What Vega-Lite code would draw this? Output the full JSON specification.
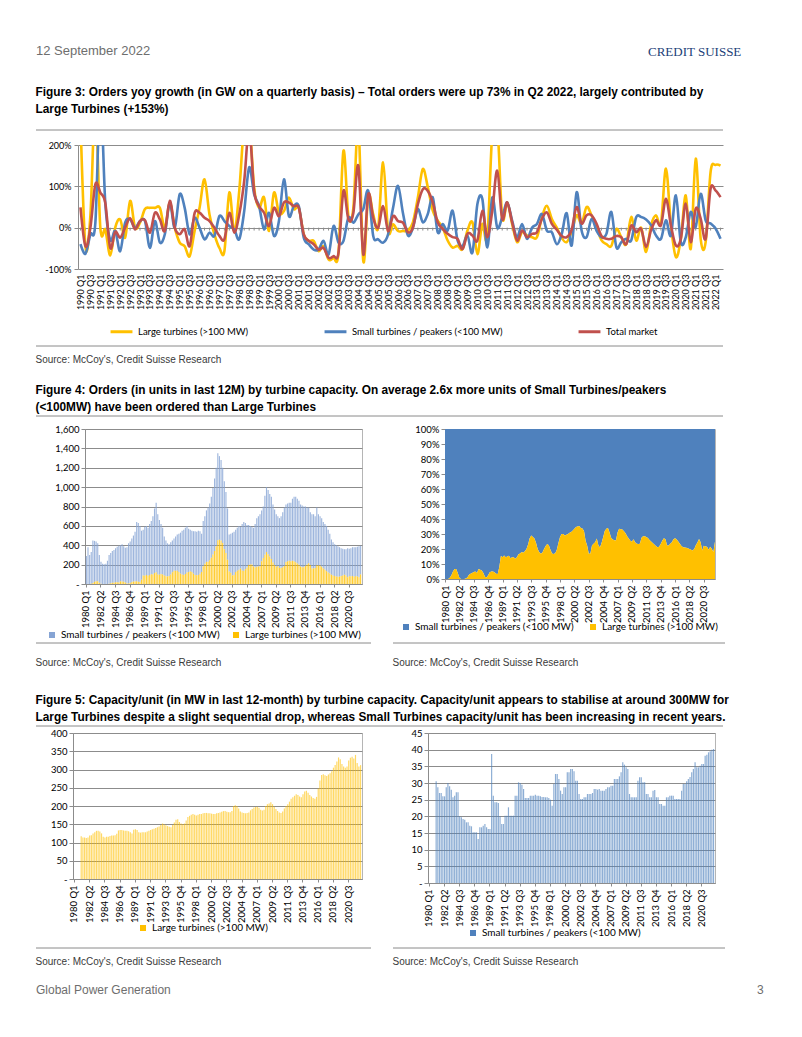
{
"$schema":"https://vega.github.io/schema/vega-lite/v6.json",
"background":"white",
"padding":{"left":35,"top":45,"right":5,"bottom":5},
"spacing":0,
"columns":1,
"align":"none",
"resolve":{"scale":{"color":"independent"},"legend":{"color":"independent"}},
"config":{"font":"Liberation Sans","view":{"stroke":null},
"axis":{"labelFont":"Lato","labelColor":"#000","labelFontSize":9.5,"domainColor":"#8c8c8c","tickColor":"#8c8c8c","gridColor":"#8c8c8c"},
"legend":{"labelFont":"Lato","labelColor":"#000","labelFontSize":10},
"title":{"font":"Liberation Sans","anchor":"start","color":"#000"}},
"datasets":{
"f3":[
{"q":"1990 Q1","L":260,"S":-40,"T":49},{"q":"1990 Q2","L":-45,"S":-63,"T":-45},{"q":"1990 Q3","L":30,"S":-16,"T":0},{"q":"1990 Q4","L":300,"S":12,"T":105},
{"q":"1991 Q1","L":0,"S":320,"T":85},{"q":"1991 Q2","L":-5,"S":60,"T":60},{"q":"1991 Q3","L":-67,"S":-30,"T":-49},{"q":"1991 Q4","L":0,"S":-8,"T":-10},
{"q":"1992 Q1","L":20,"S":-57,"T":-24},{"q":"1992 Q2","L":-24,"S":12,"T":0},{"q":"1992 Q3","L":65,"S":20,"T":23},{"q":"1992 Q4","L":0,"S":0,"T":-4},
{"q":"1993 Q1","L":12,"S":16,"T":16},{"q":"1993 Q2","L":45,"S":16,"T":18},{"q":"1993 Q3","L":48,"S":-49,"T":-12},{"q":"1993 Q4","L":48,"S":16,"T":36},
{"q":"1994 Q1","L":48,"S":-36,"T":20},{"q":"1994 Q2","L":0,"S":-16,"T":-8},{"q":"1994 Q3","L":60,"S":60,"T":65},{"q":"1994 Q4","L":0,"S":0,"T":0},
{"q":"1995 Q1","L":-36,"S":81,"T":-16},{"q":"1995 Q2","L":-45,"S":48,"T":-4},{"q":"1995 Q3","L":-69,"S":-16,"T":-45},{"q":"1995 Q4","L":-8,"S":24,"T":35},
{"q":"1996 Q1","L":48,"S":0,"T":36},{"q":"1996 Q2","L":117,"S":-28,"T":24},{"q":"1996 Q3","L":32,"S":-12,"T":16},{"q":"1996 Q4","L":-16,"S":-20,"T":0},
{"q":"1997 Q1","L":-49,"S":28,"T":-20},{"q":"1997 Q2","L":-57,"S":16,"T":-28},{"q":"1997 Q3","L":85,"S":4,"T":36},{"q":"1997 Q4","L":-8,"S":-4,"T":-12},
{"q":"1998 Q1","L":89,"S":-28,"T":32},{"q":"1998 Q2","L":250,"S":40,"T":113},{"q":"1998 Q3","L":260,"S":146,"T":240},{"q":"1998 Q4","L":97,"S":81,"T":89},
{"q":"1999 Q1","L":48,"S":52,"T":52},{"q":"1999 Q2","L":73,"S":-4,"T":36},{"q":"1999 Q3","L":-8,"S":36,"T":4},{"q":"1999 Q4","L":85,"S":-20,"T":48},
{"q":"2000 Q1","L":36,"S":16,"T":28},{"q":"2000 Q2","L":40,"S":117,"T":61},{"q":"2000 Q3","L":73,"S":28,"T":61},{"q":"2000 Q4","L":45,"S":52,"T":52},
{"q":"2001 Q1","L":48,"S":52,"T":48},{"q":"2001 Q2","L":-16,"S":-24,"T":-16},{"q":"2001 Q3","L":-32,"S":-40,"T":-32},{"q":"2001 Q4","L":-32,"S":-53,"T":-40},
{"q":"2002 Q1","L":-57,"S":-53,"T":-53},{"q":"2002 Q2","L":-45,"S":-32,"T":-49},{"q":"2002 Q3","L":-77,"S":-65,"T":-73},{"q":"2002 Q4","L":-73,"S":4,"T":-69},
{"q":"2003 Q1","L":-61,"S":-36,"T":-61},{"q":"2003 Q2","L":186,"S":-32,"T":89},{"q":"2003 Q3","L":28,"S":24,"T":20},{"q":"2003 Q4","L":48,"S":12,"T":36},
{"q":"2004 Q1","L":250,"S":32,"T":150},{"q":"2004 Q2","L":-81,"S":45,"T":-65},{"q":"2004 Q3","L":77,"S":89,"T":81},{"q":"2004 Q4","L":32,"S":-20,"T":24},
{"q":"2005 Q1","L":0,"S":-28,"T":0},{"q":"2005 Q2","L":158,"S":-36,"T":52},{"q":"2005 Q3","L":-8,"S":-16,"T":-8},{"q":"2005 Q4","L":8,"S":48,"T":28},
{"q":"2006 Q1","L":-8,"S":101,"T":16},{"q":"2006 Q2","L":-8,"S":35,"T":12},{"q":"2006 Q3","L":-7,"S":-19,"T":-11},{"q":"2006 Q4","L":13,"S":0,"T":0},
{"q":"2007 Q1","L":73,"S":45,"T":57},{"q":"2007 Q2","L":142,"S":13,"T":93},{"q":"2007 Q3","L":98,"S":33,"T":89},{"q":"2007 Q4","L":41,"S":73,"T":61},
{"q":"2008 Q1","L":17,"S":-11,"T":13},{"q":"2008 Q2","L":0,"S":9,"T":-3},{"q":"2008 Q3","L":-31,"S":-7,"T":-15},{"q":"2008 Q4","L":-48,"S":41,"T":-23},
{"q":"2009 Q1","L":-44,"S":-31,"T":-27},{"q":"2009 Q2","L":-52,"S":-44,"T":-52},{"q":"2009 Q3","L":-7,"S":-19,"T":-15},{"q":"2009 Q4","L":13,"S":-60,"T":-19},
{"q":"2010 Q1","L":-64,"S":57,"T":-31},{"q":"2010 Q2","L":9,"S":69,"T":41},{"q":"2010 Q3","L":-23,"S":-48,"T":-23},{"q":"2010 Q4","L":230,"S":73,"T":41},
{"q":"2011 Q1","L":250,"S":0,"T":138},{"q":"2011 Q2","L":25,"S":25,"T":21},{"q":"2011 Q3","L":61,"S":61,"T":61},{"q":"2011 Q4","L":9,"S":17,"T":13},
{"q":"2012 Q1","L":-35,"S":-23,"T":-31},{"q":"2012 Q2","L":-11,"S":9,"T":-7},{"q":"2012 Q3","L":-19,"S":-27,"T":-23},{"q":"2012 Q4","L":-23,"S":0,"T":-15},
{"q":"2013 Q1","L":-23,"S":9,"T":-11},{"q":"2013 Q2","L":25,"S":33,"T":21},{"q":"2013 Q3","L":53,"S":-7,"T":37},{"q":"2013 Q4","L":21,"S":-11,"T":9},
{"q":"2014 Q1","L":0,"S":-40,"T":-5},{"q":"2014 Q2","L":-25,"S":-15,"T":-20},{"q":"2014 Q3","L":-35,"S":35,"T":-23},{"q":"2014 Q4","L":-10,"S":-43,"T":-5},
{"q":"2015 Q1","L":30,"S":86,"T":50},{"q":"2015 Q2","L":10,"S":-7,"T":10},{"q":"2015 Q3","L":50,"S":-23,"T":30},{"q":"2015 Q4","L":30,"S":21,"T":30},
{"q":"2016 Q1","L":2,"S":-7,"T":10},{"q":"2016 Q2","L":-30,"S":-23,"T":-20},{"q":"2016 Q3","L":-40,"S":-15,"T":-27},{"q":"2016 Q4","L":-44,"S":38,"T":-27},
{"q":"2017 Q1","L":-3,"S":-47,"T":-20},{"q":"2017 Q2","L":-23,"S":-35,"T":-23},{"q":"2017 Q3","L":-40,"S":-27,"T":-40},{"q":"2017 Q4","L":26,"S":-31,"T":5},
{"q":"2018 Q1","L":-31,"S":25,"T":-11},{"q":"2018 Q2","L":0,"S":26,"T":-3},{"q":"2018 Q3","L":-59,"S":20,"T":-47},{"q":"2018 Q4","L":6,"S":6,"T":-6},
{"q":"2019 Q1","L":30,"S":-19,"T":18},{"q":"2019 Q2","L":10,"S":-27,"T":6},{"q":"2019 Q3","L":143,"S":18,"T":70},{"q":"2019 Q4","L":6,"S":-19,"T":6},
{"q":"2020 Q1","L":-71,"S":78,"T":-43},{"q":"2020 Q2","L":-27,"S":-35,"T":-27},{"q":"2020 Q3","L":78,"S":-23,"T":58},{"q":"2020 Q4","L":-51,"S":38,"T":-35},
{"q":"2021 Q1","L":167,"S":2,"T":46},{"q":"2021 Q2","L":-27,"S":82,"T":22},{"q":"2021 Q3","L":-35,"S":18,"T":-27},{"q":"2021 Q4","L":135,"S":10,"T":94},
{"q":"2022 Q1","L":152,"S":-2,"T":90},{"q":"2022 Q2","L":150,"S":-27,"T":74}
],
"f45":[
{"q":"1980 Q1","us":290,"ul":0,"cl":0,"cs":0},{"q":"1980 Q2","us":380,"ul":0,"cl":0,"cs":0},{"q":"1980 Q3","us":300,"ul":0,"cl":0,"cs":0},{"q":"1980 Q4","us":327,"ul":3,"cl":0,"cs":0},
{"q":"1981 Q1","us":439,"ul":11,"cl":117,"cs":30.5},{"q":"1981 Q2","us":423,"ul":22,"cl":114,"cs":28.7},{"q":"1981 Q3","us":411,"ul":29,"cl":114,"cs":27},{"q":"1981 Q4","us":392,"ul":28,"cl":112,"cs":27},
{"q":"1982 Q1","us":288,"ul":12,"cl":114,"cs":26},{"q":"1982 Q2","us":228,"ul":2,"cl":119,"cs":26},{"q":"1982 Q3","us":210,"ul":0,"cl":120,"cs":28.7},{"q":"1982 Q4","us":205,"ul":0,"cl":125,"cs":30},
{"q":"1983 Q1","us":210,"ul":0,"cl":128,"cs":29},{"q":"1983 Q2","us":239,"ul":1,"cl":132,"cs":28},{"q":"1983 Q3","us":297,"ul":3,"cl":132,"cs":25.7},{"q":"1983 Q4","us":311,"ul":9,"cl":130,"cs":26.2},
{"q":"1984 Q1","us":328,"ul":12,"cl":125,"cs":27.2},{"q":"1984 Q2","us":336,"ul":14,"cl":116,"cs":27.2},{"q":"1984 Q3","us":353,"ul":17,"cl":114,"cs":20},{"q":"1984 Q4","us":366,"ul":19,"cl":116,"cs":19.7},
{"q":"1985 Q1","us":379,"ul":16,"cl":116,"cs":19.2},{"q":"1985 Q2","us":373,"ul":27,"cl":118,"cs":19},{"q":"1985 Q3","us":385,"ul":25,"cl":119,"cs":18.2},{"q":"1985 Q4","us":368,"ul":22,"cl":119,"cs":18.2},
{"q":"1986 Q1","us":360,"ul":15,"cl":120,"cs":17.2},{"q":"1986 Q2","us":374,"ul":6,"cl":124,"cs":17},{"q":"1986 Q3","us":416,"ul":4,"cl":133,"cs":15.2},{"q":"1986 Q4","us":429,"ul":11,"cl":134,"cs":15.2},
{"q":"1987 Q1","us":449,"ul":21,"cl":134,"cs":15.2},{"q":"1987 Q2","us":475,"ul":25,"cl":133,"cs":13.2},{"q":"1987 Q3","us":513,"ul":27,"cl":132,"cs":16.7},{"q":"1987 Q4","us":611,"ul":29,"cl":132,"cs":16.7},
{"q":"1988 Q1","us":608,"ul":22,"cl":131,"cs":17.2},{"q":"1988 Q2","us":580,"ul":20,"cl":128,"cs":17.7},{"q":"1988 Q3","us":506,"ul":44,"cl":125,"cs":16.7},{"q":"1988 Q4","us":473,"ul":87,"cl":135,"cs":16.2},
{"q":"1989 Q1","us":504,"ul":86,"cl":136,"cs":16.2},{"q":"1989 Q2","us":506,"ul":94,"cl":134,"cs":38.7},{"q":"1989 Q3","us":496,"ul":84,"cl":128,"cs":26.2},{"q":"1989 Q4","us":527,"ul":93,"cl":127,"cs":24.2},
{"q":"1990 Q1","us":549,"ul":101,"cl":128,"cs":24.2},{"q":"1990 Q2","us":603,"ul":97,"cl":128,"cs":24},{"q":"1990 Q3","us":667,"ul":113,"cl":128,"cs":20},{"q":"1990 Q4","us":718,"ul":122,"cl":130,"cs":17.7},
{"q":"1991 Q1","us":623,"ul":97,"cl":132,"cs":17.7},{"q":"1991 Q2","us":564,"ul":96,"cl":134,"cs":20.2},{"q":"1991 Q3","us":518,"ul":102,"cl":136,"cs":20.2},{"q":"1991 Q4","us":481,"ul":99,"cl":138,"cs":22.7},
{"q":"1992 Q1","us":402,"ul":88,"cl":140,"cs":20.2},{"q":"1992 Q2","us":371,"ul":79,"cl":142,"cs":20.2},{"q":"1992 Q3","us":342,"ul":78,"cl":144,"cs":20.2},{"q":"1992 Q4","us":328,"ul":82,"cl":148,"cs":26.2},
{"q":"1993 Q1","us":331,"ul":99,"cl":152,"cs":26.2},{"q":"1993 Q2","us":328,"ul":122,"cl":150,"cs":30.2},{"q":"1993 Q3","us":334,"ul":136,"cl":147,"cs":30},{"q":"1993 Q4","us":353,"ul":137,"cl":145,"cs":29.5},
{"q":"1994 Q1","us":372,"ul":138,"cl":143,"cs":28.2},{"q":"1994 Q2","us":395,"ul":125,"cl":142,"cs":25.5},{"q":"1994 Q3","us":424,"ul":106,"cl":148,"cs":25.5},{"q":"1994 Q4","us":452,"ul":98,"cl":155,"cs":25.5},
{"q":"1995 Q1","us":466,"ul":94,"cl":162,"cs":26.2},{"q":"1995 Q2","us":478,"ul":102,"cl":164,"cs":26.2},{"q":"1995 Q3","us":480,"ul":120,"cl":156,"cs":26.2},{"q":"1995 Q4","us":445,"ul":125,"cl":152,"cs":26.5},
{"q":"1996 Q1","us":429,"ul":131,"cl":150,"cs":26.2},{"q":"1996 Q2","us":426,"ul":124,"cl":152,"cs":26.2},{"q":"1996 Q3","us":439,"ul":106,"cl":160,"cs":26},{"q":"1996 Q4","us":452,"ul":93,"cl":170,"cs":25.8},
{"q":"1997 Q1","us":450,"ul":90,"cl":173,"cs":25.8},{"q":"1997 Q2","us":456,"ul":94,"cl":176,"cs":25.7},{"q":"1997 Q3","us":439,"ul":106,"cl":178,"cs":25.7},{"q":"1997 Q4","us":395,"ul":125,"cl":176,"cs":25.5},
{"q":"1998 Q1","us":468,"ul":182,"cl":174,"cs":25},{"q":"1998 Q2","us":490,"ul":210,"cl":176,"cs":23.2},{"q":"1998 Q3","us":532,"ul":228,"cl":178,"cs":29.7},{"q":"1998 Q4","us":561,"ul":229,"cl":178,"cs":32.7},
{"q":"1999 Q1","us":585,"ul":245,"cl":180,"cs":32.7},{"q":"1999 Q2","us":630,"ul":270,"cl":181,"cs":31.2},{"q":"1999 Q3","us":685,"ul":305,"cl":181,"cs":27.7},{"q":"1999 Q4","us":749,"ul":341,"cl":180,"cs":26.7},
{"q":"2000 Q1","us":811,"ul":389,"cl":180,"cs":28.7},{"q":"2000 Q2","us":898,"ul":452,"cl":179,"cs":28.7},{"q":"2000 Q3","us":863,"ul":457,"cl":178,"cs":33.2},{"q":"2000 Q4","us":832,"ul":448,"cl":178,"cs":33.2},
{"q":"2001 Q1","us":776,"ul":424,"cl":180,"cs":34.2},{"q":"2001 Q2","us":700,"ul":360,"cl":181,"cs":34.2},{"q":"2001 Q3","us":630,"ul":320,"cl":182,"cs":33.5},{"q":"2001 Q4","us":530,"ul":250,"cl":184,"cs":30.7},
{"q":"2002 Q1","us":380,"ul":130,"cl":186,"cs":30.7},{"q":"2002 Q2","us":405,"ul":115,"cl":186,"cs":26.7},{"q":"2002 Q3","us":441,"ul":89,"cl":184,"cs":25.2},{"q":"2002 Q4","us":448,"ul":92,"cl":183,"cs":25.2},
{"q":"2003 Q1","us":435,"ul":125,"cl":183,"cs":25.7},{"q":"2003 Q2","us":444,"ul":136,"cl":186,"cs":25.7},{"q":"2003 Q3","us":453,"ul":147,"cl":200,"cs":26.7},{"q":"2003 Q4","us":431,"ul":159,"cl":202,"cs":26.7},
{"q":"2004 Q1","us":480,"ul":140,"cl":200,"cs":26.7},{"q":"2004 Q2","us":506,"ul":134,"cl":193,"cs":27},{"q":"2004 Q3","us":479,"ul":151,"cl":185,"cs":28.2},{"q":"2004 Q4","us":440,"ul":170,"cl":182,"cs":28.2},
{"q":"2005 Q1","us":415,"ul":195,"cl":181,"cs":28},{"q":"2005 Q2","us":399,"ul":201,"cl":180,"cs":28.2},{"q":"2005 Q3","us":389,"ul":201,"cl":181,"cs":27.7},{"q":"2005 Q4","us":400,"ul":180,"cl":182,"cs":27.7},
{"q":"2006 Q1","us":449,"ul":171,"cl":188,"cs":27.7},{"q":"2006 Q2","us":501,"ul":179,"cl":192,"cs":28.2},{"q":"2006 Q3","us":519,"ul":181,"cl":196,"cs":28.7},{"q":"2006 Q4","us":535,"ul":185,"cl":197,"cs":28.7},
{"q":"2007 Q1","us":524,"ul":236,"cl":198,"cs":29.2},{"q":"2007 Q2","us":532,"ul":268,"cl":195,"cs":29.2},{"q":"2007 Q3","us":608,"ul":302,"cl":190,"cs":31.2},{"q":"2007 Q4","us":670,"ul":330,"cl":188,"cs":31.2},
{"q":"2008 Q1","us":662,"ul":308,"cl":190,"cs":31.2},{"q":"2008 Q2","us":646,"ul":284,"cl":200,"cs":32},{"q":"2008 Q3","us":643,"ul":257,"cl":205,"cs":33.2},{"q":"2008 Q4","us":599,"ul":221,"cl":207,"cs":36.2},
{"q":"2009 Q1","us":574,"ul":196,"cl":210,"cs":35.5},{"q":"2009 Q2","us":541,"ul":179,"cl":205,"cs":34.7},{"q":"2009 Q3","us":514,"ul":186,"cl":198,"cs":34.2},{"q":"2009 Q4","us":513,"ul":167,"cl":192,"cs":26.7},
{"q":"2010 Q1","us":536,"ul":164,"cl":186,"cs":25.7},{"q":"2010 Q2","us":567,"ul":173,"cl":182,"cs":25.7},{"q":"2010 Q3","us":605,"ul":185,"cl":181,"cs":25.7},{"q":"2010 Q4","us":594,"ul":226,"cl":185,"cs":25.7},
{"q":"2011 Q1","us":594,"ul":236,"cl":193,"cs":30.7},{"q":"2011 Q2","us":600,"ul":240,"cl":200,"cs":31.7},{"q":"2011 Q3","us":605,"ul":235,"cl":205,"cs":31.7},{"q":"2011 Q4","us":640,"ul":240,"cl":212,"cs":30.2},
{"q":"2012 Q1","us":666,"ul":234,"cl":220,"cs":30.2},{"q":"2012 Q2","us":675,"ul":225,"cl":224,"cs":26.7},{"q":"2012 Q3","us":669,"ul":211,"cl":228,"cs":26.7},{"q":"2012 Q4","us":662,"ul":198,"cl":232,"cs":25.7},
{"q":"2013 Q1","us":640,"ul":180,"cl":230,"cs":25.7},{"q":"2013 Q2","us":638,"ul":172,"cl":226,"cs":27.7},{"q":"2013 Q3","us":628,"ul":172,"cl":224,"cs":27.9},{"q":"2013 Q4","us":613,"ul":187,"cl":232,"cs":25.7},
{"q":"2014 Q1","us":589,"ul":201,"cl":240,"cs":25.7},{"q":"2014 Q2","us":575,"ul":215,"cl":242,"cs":23.7},{"q":"2014 Q3","us":544,"ul":196,"cl":236,"cs":23.7},{"q":"2014 Q4","us":559,"ul":161,"cl":230,"cs":23.2},
{"q":"2015 Q1","us":559,"ul":161,"cl":226,"cs":23.2},{"q":"2015 Q2","us":536,"ul":164,"cl":222,"cs":25.7},{"q":"2015 Q3","us":596,"ul":194,"cl":220,"cs":25.7},{"q":"2015 Q4","us":529,"ul":191,"cl":225,"cs":26.2},
{"q":"2016 Q1","us":510,"ul":190,"cl":248,"cs":26.2},{"q":"2016 Q2","us":501,"ul":179,"cl":270,"cs":26.2},{"q":"2016 Q3","us":480,"ul":160,"cl":285,"cs":25.2},{"q":"2016 Q4","us":474,"ul":146,"cl":287,"cs":25.2},
{"q":"2017 Q1","us":468,"ul":132,"cl":284,"cs":25.2},{"q":"2017 Q2","us":441,"ul":119,"cl":282,"cs":25.2},{"q":"2017 Q3","us":411,"ul":109,"cl":286,"cs":27.7},{"q":"2017 Q4","us":364,"ul":96,"cl":290,"cs":29.7},
{"q":"2018 Q1","us":342,"ul":88,"cl":295,"cs":29.7},{"q":"2018 Q2","us":328,"ul":82,"cl":305,"cs":30.5},{"q":"2018 Q3","us":322,"ul":78,"cl":312,"cs":31.2},{"q":"2018 Q4","us":316,"ul":74,"cl":322,"cs":31.8},
{"q":"2019 Q1","us":304,"ul":76,"cl":333,"cs":33.2},{"q":"2019 Q2","us":287,"ul":83,"cl":328,"cs":34.2},{"q":"2019 Q3","us":276,"ul":89,"cl":315,"cs":36.2},{"q":"2019 Q4","us":264,"ul":96,"cl":308,"cs":34.7},
{"q":"2020 Q1","us":272,"ul":88,"cl":305,"cs":34.7},{"q":"2020 Q2","us":300,"ul":70,"cl":308,"cs":35.2},{"q":"2020 Q3","us":284,"ul":81,"cl":325,"cs":35.7},{"q":"2020 Q4","us":290,"ul":80,"cl":332,"cs":35.7},
{"q":"2021 Q1","us":298,"ul":82,"cl":335,"cs":38.2},{"q":"2021 Q2","us":306,"ul":74,"cl":330,"cs":38.5},{"q":"2021 Q3","us":298,"ul":82,"cl":340,"cs":39.2},{"q":"2021 Q4","us":308,"ul":77,"cl":318,"cs":39.5},
{"q":"2022 Q1","us":320,"ul":70,"cl":308,"cs":40},{"q":"2022 Q2","us":296,"ul":99,"cl":312,"cs":40.2}
]},
"concat":[
{"hconcat":[
 {"width":1,"height":26,"data":{"values":[{}]},"mark":{"type":"rule","strokeOpacity":0},"encoding":{"y":{"datum":0,"scale":{"domain":[0,1]},"axis":null}},
  "title":{"text":"12 September 2022","fontSize":13,"fontWeight":"normal","color":"#6e6e6e","offset":2}},
 {"width":1,"height":26,"data":{"values":[{}]},"mark":{"type":"rule","strokeOpacity":0},"encoding":{"y":{"datum":0,"scale":{"domain":[0,1]},"axis":null}},
  "title":{"text":"CREDIT SUISSE","font":"Liberation Serif","fontSize":13,"fontWeight":"normal","color":"#1c3f78","offset":1}}
 ],"spacing":497},
{"width":687,"height":11,"data":{"values":[{}]},"mark":{"type":"rule","color":"#8a8a8a"},"encoding":{"y":{"datum":1,"scale":{"domain":[0,1]},"axis":null}},
 "title":{"text":["Figure 3: Orders yoy growth (in GW on a quarterly basis) – Total orders were up 73% in Q2 2022, largely contributed by","Large Turbines (+153%)"],"fontSize":11.85,"fontWeight":"bold","lineHeight":17,"offset":14}},
{"hconcat":[
 {"width":1,"height":1,"data":{"values":[{}]},"mark":{"type":"rule","strokeOpacity":0},"encoding":{"y":{"datum":0,"scale":{"domain":[0,1]},"axis":null}}},
 {"width":645,"height":124,"data":{"name":"f3"},
 "encoding":{"x":{"field":"q","type":"ordinal","sort":null,"title":null,"scale":{"type":"point","padding":0.5},
   "axis":{"labelAngle":270,"labelFontSize":9,"labelExpr":"indexof(datum.value,'Q2')>0||indexof(datum.value,'Q4')>0?'':datum.value","ticks":false,"domain":false,"labelPadding":5,"labelOverlap":false,"grid":false}}},
 "layer":[
  {"mark":{"type":"rule","color":"#8c8c8c"},"encoding":{"y":{"datum":0,"type":"quantitative","title":null,"scale":{"domain":[-100,200],"nice":false},
     "axis":{"title":null,"values":[-100,-50,0,50,100,150,200],"labelExpr":"datum.value + '%'","grid":true,"tickSize":4,"labelPadding":3,"labelFontSize":9,"minExtent":41,"maxExtent":41}},"y2":{"datum":-7}}},
  {"mark":{"type":"line","interpolate":"cardinal","strokeWidth":2.6,"clip":true},"encoding":{"y":{"field":"L","type":"quantitative","title":null},
    "color":{"datum":"Large turbines (>100 MW)","scale":{"domain":["Large turbines (>100 MW)","Small turbines / peakers (<100 MW)","Total market"],"range":["#FFC000","#4F81BD","#C0504D"]},
     "legend":{"orient":"none","legendX":31,"legendY":174,"direction":"horizontal","symbolType":"stroke","symbolStrokeWidth":3,"symbolSize":480,"labelFontSize":9.5,"columnPadding":69,"title":null}}}},
  {"mark":{"type":"line","interpolate":"cardinal","strokeWidth":2.6,"clip":true},"encoding":{"y":{"field":"S","type":"quantitative","title":null},"color":{"datum":"Small turbines / peakers (<100 MW)"}}},
  {"mark":{"type":"line","interpolate":"cardinal","strokeWidth":2.6,"clip":true},"encoding":{"y":{"field":"T","type":"quantitative","title":null},"color":{"datum":"Total market"}}}
 ]}],"spacing":0,"resolve":{"scale":{"color":"independent"},"legend":{"color":"independent"}}},
{"width":687,"height":8,"data":{"values":[{}]},"mark":{"type":"rule","color":"#8a8a8a"},"encoding":{"y":{"datum":0,"scale":{"domain":[0,1]},"axis":null}},
 "title":{"text":"Source: McCoy's, Credit Suisse Research","orient":"bottom","fontSize":10,"fontWeight":"normal","color":"#3a3a3a","offset":8}},
{"width":1,"height":19,"data":{"values":[{}]},"mark":{"type":"rule","strokeOpacity":0},"encoding":{"y":{"datum":0,"scale":{"domain":[0,1]},"axis":null}}},
{"width":687,"height":7,"data":{"values":[{}]},"mark":{"type":"rule","color":"#8a8a8a"},"encoding":{"y":{"datum":1,"scale":{"domain":[0,1]},"axis":null}},
 "title":{"text":["Figure 4: Orders (in units in last 12M) by turbine capacity. On average 2.6x more units of Small Turbines/peakers","(<100MW) have been ordered than Large Turbines"],"fontSize":11.85,"fontWeight":"bold","lineHeight":17,"offset":2}},
{"hconcat":[
 {"width":1,"height":1,"data":{"values":[{}]},"mark":{"type":"rule","strokeOpacity":0},"encoding":{"y":{"datum":0,"scale":{"domain":[0,1]},"axis":null}}},
 {"width":277,"height":155,"data":{"name":"f45"},"view":{"stroke":"#b5b5b5"},
  "transform":[{"fold":["us","ul"],"as":["k","v"]}],
  "mark":{"type":"bar","opacity":0.8},
  "encoding":{
   "x":{"field":"q","type":"ordinal","sort":null,"title":null,"scale":{"paddingInner":0.3,"paddingOuter":0.5},
    "axis":{"values":["1980 Q1","1982 Q2","1984 Q3","1986 Q4","1989 Q1","1991 Q2","1993 Q3","1995 Q4","1998 Q1","2000 Q2","2002 Q3","2004 Q4","2007 Q1","2009 Q2","2011 Q3","2013 Q4","2016 Q1","2018 Q2","2020 Q3"],"labelAngle":270,"labelPadding":3,"tickSize":3,"labelOverlap":false}},
   "y":{"field":"v","type":"quantitative","title":null,"stack":"zero","scale":{"domain":[0,1600],"nice":false},
    "axis":{"values":[0,200,400,600,800,1000,1200,1400,1600],"labelExpr":"datum.value==0?'-':format(datum.value,',')","grid":true,"tickSize":4,"minExtent":47,"maxExtent":47}},
   "color":{"field":"k","type":"nominal","scale":{"domain":["us","ul"],"range":["#86a4d4","#FFC000"]},
    "legend":{"orient":"none","legendX":-38,"legendY":201,"direction":"horizontal","symbolType":"square","symbolSize":36,"symbolOpacity":1,"columnPadding":11,"title":null,
     "labelExpr":"datum.value=='us'?'Small turbines / peakers (<100 MW)':'Large turbines (>100 MW)'"}},
   "order":{"field":"k","sort":"ascending"}}},
 {"width":270,"height":150,"data":{"name":"f45"},"view":{"stroke":"#b5b5b5"},
  "transform":[{"fold":["us","ul"],"as":["k","v"]}],
  "mark":{"type":"area"},
  "encoding":{
   "x":{"field":"q","type":"ordinal","sort":null,"title":null,"scale":{"type":"point","padding":0},
    "axis":{"values":["1980 Q1","1982 Q2","1984 Q3","1986 Q4","1989 Q1","1991 Q2","1993 Q3","1995 Q4","1998 Q1","2000 Q2","2002 Q3","2004 Q4","2007 Q1","2009 Q2","2011 Q3","2013 Q4","2016 Q1","2018 Q2","2020 Q3"],"labelAngle":270,"labelPadding":3,"tickSize":3,"labelOverlap":false}},
   "y":{"field":"v","type":"quantitative","title":null,"stack":"normalize",
    "axis":{"values":[0,0.1,0.2,0.3,0.4,0.5,0.6,0.7,0.8,0.9,1],"format":".0%","grid":false,"tickSize":4,"minExtent":81,"maxExtent":81}},
   "color":{"field":"k","type":"nominal","scale":{"domain":["us","ul"],"range":["#4F81BD","#FFC000"]},
    "legend":{"orient":"none","legendX":-44,"legendY":193,"direction":"horizontal","symbolType":"square","symbolSize":36,"columnPadding":14,"title":null,
     "labelExpr":"datum.value=='us'?'Small turbines / peakers (<100 MW)':'Large turbines (>100 MW)'"}},
   "order":{"field":"k","sort":"ascending"}}}
 ],"spacing":0,"resolve":{"scale":{"color":"independent","x":"independent","y":"independent"}}},
{"hconcat":[
 {"width":335,"height":2,"data":{"values":[{}]},"mark":{"type":"rule","color":"#8a8a8a"},"encoding":{"y":{"datum":0,"scale":{"domain":[0,1]},"axis":null}},
  "title":{"text":"Source: McCoy's, Credit Suisse Research","orient":"bottom","fontSize":10,"fontWeight":"normal","color":"#3a3a3a","offset":14}},
 {"width":332,"height":2,"data":{"values":[{}]},"mark":{"type":"rule","color":"#8a8a8a"},"encoding":{"y":{"datum":0,"scale":{"domain":[0,1]},"axis":null}},
  "title":{"text":"Source: McCoy's, Credit Suisse Research","orient":"bottom","fontSize":10,"fontWeight":"normal","color":"#3a3a3a","offset":14}}
 ],"spacing":20},
{"width":1,"height":26,"data":{"values":[{}]},"mark":{"type":"rule","strokeOpacity":0},"encoding":{"y":{"datum":0,"scale":{"domain":[0,1]},"axis":null}}},
{"width":687,"height":1,"data":{"values":[{}]},"mark":{"type":"rule","color":"#8a8a8a"},"encoding":{"y":{"datum":1,"scale":{"domain":[0,1]},"axis":null}},
 "title":{"text":["Figure 5: Capacity/unit (in MW in last 12-month) by turbine capacity. Capacity/unit appears to stabilise at around 300MW for","Large Turbines despite a slight sequential drop, whereas Small Turbines capacity/unit has been increasing in recent years."],"fontSize":11.85,"fontWeight":"bold","lineHeight":17,"offset":2}},
{"hconcat":[
 {"width":1,"height":1,"data":{"values":[{}]},"mark":{"type":"rule","strokeOpacity":0},"encoding":{"y":{"datum":0,"scale":{"domain":[0,1]},"axis":null}}},
 {"width":289,"height":146,"data":{"name":"f45"},"view":{"stroke":"#b5b5b5"},
  "mark":{"type":"bar","opacity":0.6},
  "encoding":{
   "x":{"field":"q","type":"ordinal","sort":null,"title":null,"scale":{"paddingInner":0.3,"paddingOuter":0.5},
    "axis":{"values":["1980 Q1","1982 Q2","1984 Q3","1986 Q4","1989 Q1","1991 Q2","1993 Q3","1995 Q4","1998 Q1","2000 Q2","2002 Q3","2004 Q4","2007 Q1","2009 Q2","2011 Q3","2013 Q4","2016 Q1","2018 Q2","2020 Q3"],"labelAngle":270,"labelPadding":3,"tickSize":3,"labelOverlap":false}},
   "y":{"field":"cl","type":"quantitative","title":null,"scale":{"domain":[0,400],"nice":false},
    "axis":{"values":[0,50,100,150,200,250,300,350,400],"labelExpr":"datum.value==0?'-':datum.label","grid":true,"tickSize":4,"minExtent":35,"maxExtent":35}},
   "color":{"datum":"Large turbines (>100 MW)","scale":{"range":["#FFC000"]},
    "legend":{"orient":"none","legendX":65,"legendY":190,"symbolType":"square","symbolSize":36,"symbolOpacity":1,"title":null}}}},
 {"width":287,"height":150,"data":{"name":"f45"},"view":{"stroke":"#b5b5b5"},
  "mark":{"type":"bar","opacity":0.65},
  "encoding":{
   "x":{"field":"q","type":"ordinal","sort":null,"title":null,"scale":{"paddingInner":0.3,"paddingOuter":0.5},
    "axis":{"values":["1980 Q1","1982 Q2","1984 Q3","1986 Q4","1989 Q1","1991 Q2","1993 Q3","1995 Q4","1998 Q1","2000 Q2","2002 Q3","2004 Q4","2007 Q1","2009 Q2","2011 Q3","2013 Q4","2016 Q1","2018 Q2","2020 Q3"],"labelAngle":270,"labelPadding":3,"tickSize":3,"labelOverlap":false}},
   "y":{"field":"cs","type":"quantitative","title":null,"scale":{"domain":[0,45],"nice":false},
    "axis":{"values":[0,5,10,15,20,25,30,35,40,45],"labelExpr":"datum.value==0?'-':datum.label","grid":true,"tickSize":4,"minExtent":64,"maxExtent":64}},
   "color":{"datum":"Small turbines / peakers (<100 MW)","scale":{"range":["#4F81BD"]},
    "legend":{"orient":"none","legendX":40,"legendY":195,"symbolType":"square","symbolSize":36,"symbolOpacity":1,"title":null}}}}
 ],"spacing":0,"resolve":{"scale":{"color":"independent","x":"independent","y":"independent"}}},
{"hconcat":[
 {"width":335,"height":9,"data":{"values":[{}]},"mark":{"type":"rule","color":"#8a8a8a"},"encoding":{"y":{"datum":0,"scale":{"domain":[0,1]},"axis":null}},
  "title":{"text":"Source: McCoy's, Credit Suisse Research","orient":"bottom","fontSize":10,"fontWeight":"normal","color":"#3a3a3a","offset":8}},
 {"width":332,"height":9,"data":{"values":[{}]},"mark":{"type":"rule","color":"#8a8a8a"},"encoding":{"y":{"datum":0,"scale":{"domain":[0,1]},"axis":null}},
  "title":{"text":"Source: McCoy's, Credit Suisse Research","orient":"bottom","fontSize":10,"fontWeight":"normal","color":"#3a3a3a","offset":8}}
 ],"spacing":20},
{"width":1,"height":17,"data":{"values":[{}]},"mark":{"type":"rule","strokeOpacity":0},"encoding":{"y":{"datum":0,"scale":{"domain":[0,1]},"axis":null}}},
{"hconcat":[
 {"width":1,"height":1,"data":{"values":[{}]},"mark":{"type":"rule","strokeOpacity":0},"encoding":{"y":{"datum":0,"scale":{"domain":[0,1]},"axis":null}},
  "title":{"text":"Global Power Generation","fontSize":12,"fontWeight":"normal","color":"#6e6e6e","offset":0}},
 {"width":1,"height":1,"data":{"values":[{}]},"mark":{"type":"rule","strokeOpacity":0},"encoding":{"y":{"datum":0,"scale":{"domain":[0,1]},"axis":null}},
  "title":{"text":"3","fontSize":12,"fontWeight":"normal","color":"#6e6e6e","offset":0}}
 ],"spacing":586}
]}
